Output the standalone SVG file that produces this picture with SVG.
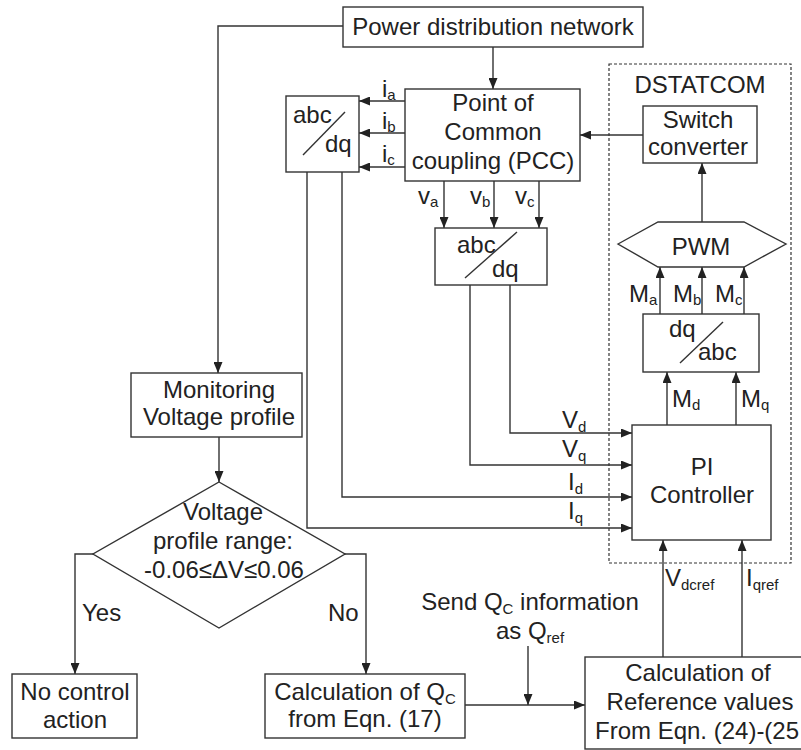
<svg xmlns="http://www.w3.org/2000/svg" width="801" height="750" viewBox="0 0 801 750">
<defs>
<marker id="ah" markerUnits="userSpaceOnUse" markerWidth="11" markerHeight="9" refX="11" refY="4.5" orient="auto">
<path d="M0,0 L11,4.5 L0,9 z" fill="#222"/>
</marker>
<style>
.box{fill:#fff;stroke:#333;stroke-width:1.4}
.ln{fill:none;stroke:#333;stroke-width:1.4}
.ar{fill:none;stroke:#333;stroke-width:1.4;marker-end:url(#ah)}
.t{font-family:"Liberation Sans",Arial,sans-serif;font-size:24px;fill:#222}
.c{text-anchor:middle}
.s{font-size:15px}
.dash{fill:none;stroke:#333;stroke-width:1.2;stroke-dasharray:3,2}
</style>
</defs>
<rect width="801" height="750" fill="#fff"/>

<g id="dstatcom">
<rect class="dash" x="609" y="64" width="182" height="499"/>
<text class="t c" x="700" y="93">DSTATCOM</text>
</g>

<g id="connectors">
<path class="ar" d="M343,26 H218 V373"/>
<path class="ar" d="M493,47 V89"/>
<path class="ar" d="M405,101 H359"/>
<path class="ar" d="M405,133 H359"/>
<path class="ar" d="M405,167 H359"/>
<path class="ar" d="M444,181 V228"/>
<path class="ar" d="M494,181 V228"/>
<path class="ar" d="M539,181 V228"/>
<path class="ar" d="M643,135 H580"/>
<path class="ar" d="M702,222 V163"/>
<path class="ar" d="M660,314 V267"/>
<path class="ar" d="M702,314 V267"/>
<path class="ar" d="M744,314 V267"/>
<path class="ar" d="M667,425 V372"/>
<path class="ar" d="M736,425 V372"/>
<path class="ar" d="M510,285 V433 H632"/>
<path class="ar" d="M470,285 V465 H632"/>
<path class="ar" d="M342,172 V497 H632"/>
<path class="ar" d="M307,172 V528 H632"/>
<path class="ar" d="M219,437 V482"/>
<path class="ar" d="M93,554 H75 V674"/>
<path class="ar" d="M345,554 H366 V674"/>
<path class="ar" d="M465,705 H585"/>
<path class="ar" d="M528,646 V705"/>
<path class="ar" d="M663,657 V540"/>
<path class="ar" d="M742,657 V540"/>
</g>

<g id="labels">
<text class="t" x="382" y="97">i<tspan class="s" dy="3">a</tspan></text>
<text class="t" x="382" y="129">i<tspan class="s" dy="3">b</tspan></text>
<text class="t" x="382" y="162">i<tspan class="s" dy="3">c</tspan></text>
<text class="t" x="418" y="204">v<tspan class="s" dy="3">a</tspan></text>
<text class="t" x="470" y="204">v<tspan class="s" dy="3">b</tspan></text>
<text class="t" x="515" y="204">v<tspan class="s" dy="3">c</tspan></text>
<text class="t" x="629" y="302">M<tspan class="s" dy="3">a</tspan></text>
<text class="t" x="673" y="302">M<tspan class="s" dy="3">b</tspan></text>
<text class="t" x="715" y="302">M<tspan class="s" dy="3">c</tspan></text>
<text class="t" x="672" y="407">M<tspan class="s" dy="3">d</tspan></text>
<text class="t" x="741" y="407">M<tspan class="s" dy="3">q</tspan></text>
<text class="t" x="562" y="428">V<tspan class="s" dy="4">d</tspan></text>
<text class="t" x="562" y="457">V<tspan class="s" dy="4">q</tspan></text>
<text class="t" x="568" y="490">I<tspan class="s" dy="4">d</tspan></text>
<text class="t" x="568" y="519">I<tspan class="s" dy="4">q</tspan></text>
<text class="t" x="665" y="586">V<tspan class="s" dy="4">dcref</tspan></text>
<text class="t" x="746" y="586">I<tspan class="s" dy="4">qref</tspan></text>
<text class="t c" x="530" y="610">Send Q<tspan class="s" dy="4">C</tspan><tspan dy="-4"> information</tspan></text>
<text class="t c" x="530" y="639">as Q<tspan class="s" dy="4">ref</tspan></text>
<text class="t" x="82" y="621">Yes</text>
<text class="t" x="328" y="621">No</text>
</g>

<g id="pdn">
<rect class="box" x="343" y="7" width="300" height="40"/>
<text class="t c" x="493" y="35">Power distribution network</text>
</g>

<g id="pcc">
<rect class="box" x="405" y="89" width="175" height="92"/>
<text class="t c" x="493" y="111">Point of</text>
<text class="t c" x="493" y="140">Common</text>
<text class="t c" x="493" y="169">coupling (PCC)</text>
</g>

<g id="abcdq1">
<rect class="box" x="286" y="96" width="73" height="76"/>
<text class="t" x="293" y="123">abc</text>
<text class="t" x="325" y="152">dq</text>
<line class="ln" x1="303" y1="155" x2="345" y2="112"/>
</g>

<g id="abcdq2">
<rect class="box" x="435" y="228" width="112" height="57"/>
<text class="t" x="457" y="253">abc</text>
<text class="t" x="492" y="277">dq</text>
<line class="ln" x1="465" y1="278" x2="517" y2="232"/>
</g>

<g id="switch">
<rect class="box" x="643" y="106" width="114" height="57"/>
<text class="t c" x="698" y="128">Switch</text>
<text class="t c" x="698" y="155">converter</text>
</g>

<g id="pwm">
<polygon class="box" points="618,244 658,222 744,222 786,244 744,267 658,267"/>
<text class="t c" x="701" y="255">PWM</text>
</g>

<g id="dqabc">
<rect class="box" x="643" y="314" width="116" height="58"/>
<text class="t" x="669" y="337">dq</text>
<text class="t" x="698" y="360">abc</text>
<line class="ln" x1="680" y1="363" x2="723" y2="322"/>
</g>

<g id="pi">
<rect class="box" x="632" y="425" width="139" height="115"/>
<text class="t c" x="702" y="475">PI</text>
<text class="t c" x="702" y="503">Controller</text>
</g>

<g id="monitor">
<rect class="box" x="131" y="373" width="171" height="64"/>
<text class="t c" x="219" y="398">Monitoring</text>
<text class="t c" x="219" y="425">Voltage profile</text>
</g>

<g id="decision">
<polygon class="box" points="219,482 345,554 219,628 93,554"/>
<text class="t c" x="223" y="520">Voltage</text>
<text class="t c" x="223" y="549">profile range:</text>
<text class="t c" x="224" y="578">-0.06≤ΔV≤0.06</text>
</g>

<g id="nocontrol">
<rect class="box" x="12" y="674" width="125" height="64"/>
<text class="t c" x="75" y="700">No control</text>
<text class="t c" x="75" y="728">action</text>
</g>

<g id="calcqc">
<rect class="box" x="265" y="674" width="200" height="64"/>
<text class="t c" x="365" y="700">Calculation of Q<tspan class="s" dy="4">C</tspan></text>
<text class="t c" x="365" y="727">from Eqn. (17)</text>
</g>

<g id="calcref">
<rect class="box" x="585" y="657" width="230" height="92"/>
<text class="t c" x="698" y="681">Calculation of</text>
<text class="t c" x="700" y="710">Reference values</text>
<text class="t" x="595" y="739">From Eqn. (24)-(25</text>
</g>
</svg>
